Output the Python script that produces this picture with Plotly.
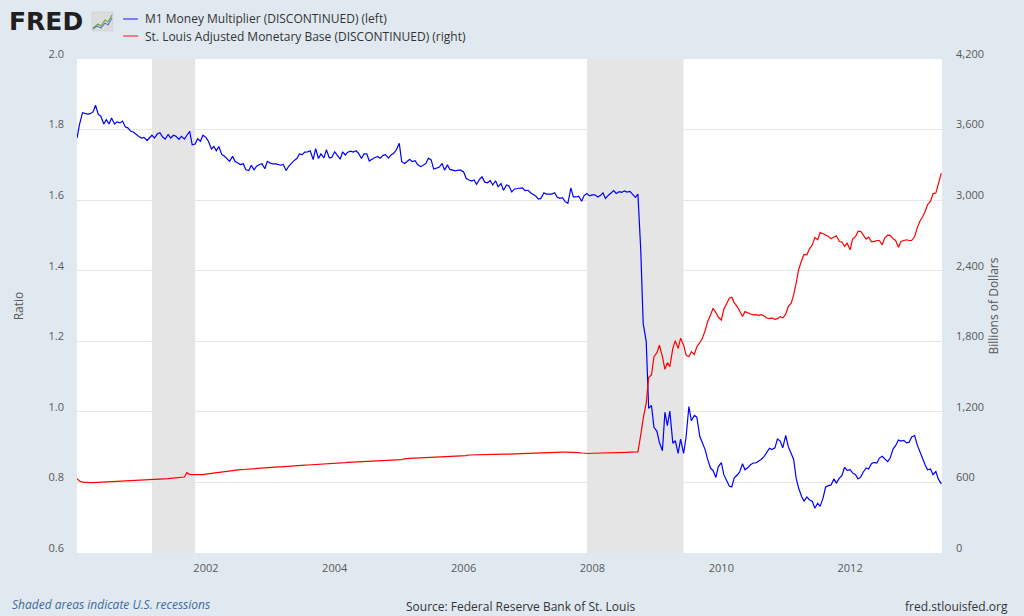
import plotly.graph_objects as go
import pandas as pd

# M1 Money Multiplier (ratio), semi-monthly, Jan 2000 - Jun 2013
m1_2000 = [1.776, 1.814, 1.848, 1.845, 1.844, 1.845, 1.850, 1.869, 1.843, 1.838, 1.816, 1.828,
           1.816, 1.833, 1.816, 1.822, 1.819, 1.824, 1.807, 1.805, 1.795, 1.793, 1.786, 1.781]
m1_2001 = [1.776, 1.778, 1.769, 1.776, 1.784, 1.776, 1.788, 1.791, 1.779, 1.773, 1.786, 1.776,
           1.784, 1.781, 1.772, 1.781, 1.773, 1.784, 1.795, 1.757, 1.759, 1.774, 1.767, 1.784]
m1_2002 = [1.778, 1.767, 1.745, 1.752, 1.740, 1.752, 1.729, 1.725, 1.718, 1.710, 1.724, 1.710,
           1.705, 1.701, 1.703, 1.686, 1.684, 1.699, 1.686, 1.696, 1.701, 1.703, 1.689, 1.710]
m1_2003 = [1.705, 1.703, 1.703, 1.701, 1.699, 1.701, 1.684, 1.696, 1.705, 1.712, 1.718, 1.731,
           1.729, 1.736, 1.737, 1.740, 1.715, 1.746, 1.718, 1.731, 1.720, 1.743, 1.720, 1.721]
m1_2004 = [1.737, 1.727, 1.716, 1.737, 1.728, 1.736, 1.739, 1.736, 1.740, 1.733, 1.718, 1.731,
           1.731, 1.711, 1.716, 1.721, 1.723, 1.719, 1.727, 1.729, 1.719, 1.728, 1.733, 1.742]
m1_2005 = [1.761, 1.709, 1.704, 1.709, 1.716, 1.709, 1.712, 1.701, 1.695, 1.698, 1.704, 1.719,
           1.714, 1.688, 1.690, 1.693, 1.704, 1.685, 1.700, 1.687, 1.685, 1.683, 1.685, 1.685]
m1_2006 = [1.680, 1.662, 1.657, 1.654, 1.657, 1.645, 1.659, 1.666, 1.651, 1.649, 1.655, 1.643,
           1.655, 1.638, 1.647, 1.628, 1.643, 1.640, 1.623, 1.631, 1.633, 1.633, 1.635, 1.627]
m1_2007 = [1.628, 1.621, 1.615, 1.611, 1.603, 1.605, 1.621, 1.617, 1.617, 1.617, 1.621, 1.609,
           1.605, 1.607, 1.595, 1.591, 1.635, 1.609, 1.609, 1.611, 1.597, 1.613, 1.619, 1.612]
m1_2008 = [1.615, 1.615, 1.609, 1.613, 1.621, 1.605, 1.614, 1.619, 1.627, 1.619, 1.624, 1.622,
           1.626, 1.623, 1.625, 1.617, 1.608, 1.617, 1.460, 1.250, 1.200, 1.010, 1.018, 0.956]
m1_2009 = [0.945, 0.913, 0.890, 0.999, 0.961, 1.002, 0.911, 0.918, 0.882, 0.923, 0.882, 0.928,
           1.015, 0.975, 0.990, 0.985, 0.930, 0.913, 0.893, 0.866, 0.840, 0.834, 0.814, 0.845]
m1_2010 = [0.856, 0.822, 0.806, 0.790, 0.787, 0.813, 0.821, 0.830, 0.853, 0.836, 0.842, 0.850,
           0.855, 0.855, 0.861, 0.865, 0.874, 0.885, 0.897, 0.893, 0.898, 0.923, 0.917, 0.898]
m1_2011 = [0.933, 0.902, 0.882, 0.865, 0.812, 0.784, 0.760, 0.747, 0.759, 0.751, 0.746, 0.727,
           0.741, 0.732, 0.756, 0.787, 0.791, 0.793, 0.810, 0.798, 0.812, 0.819, 0.843, 0.834]
m1_2012 = [0.836, 0.827, 0.822, 0.810, 0.815, 0.829, 0.841, 0.838, 0.853, 0.857, 0.855, 0.869,
           0.874, 0.867, 0.859, 0.869, 0.895, 0.904, 0.920, 0.917, 0.919, 0.912, 0.914, 0.929]
m1_2013 = [0.933, 0.907, 0.884, 0.866, 0.850, 0.836, 0.838, 0.822, 0.831, 0.810, 0.796]

# St. Louis Adjusted Monetary Base (billions of dollars), semi-monthly
base_2000 = [633, 612, 603, 600, 599, 599, 599, 600, 600, 601, 602, 602,
             603, 604, 605, 606, 607, 608, 610, 611, 612, 613, 614, 616]
base_2001 = [617, 618, 619, 621, 622, 624, 625, 627, 629, 631, 633, 635,
             637, 639, 641, 643, 646, 683, 668, 666, 665, 664, 665, 667]
base_2002 = [670, 673, 677, 681, 684, 687, 690, 693, 697, 700, 703, 705,
             707, 709, 710, 712, 713, 715, 716, 717, 719, 721, 722, 724]
base_2003 = [726, 728, 730, 732, 733, 735, 737, 738, 740, 741, 742, 744,
             745, 747, 748, 749, 750, 752, 753, 754, 756, 757, 759, 761]
base_2004 = [763, 765, 766, 768, 769, 771, 772, 774, 775, 776, 776, 777,
             779, 780, 781, 782, 784, 785, 787, 788, 789, 789, 789, 790]
base_2005 = [791, 794, 800, 804, 805, 806, 806, 807, 808, 808, 809, 809,
             810, 811, 811, 812, 813, 814, 815, 816, 818, 819, 820, 822]
base_2006 = [823, 828, 833, 834, 835, 835, 836, 836, 837, 837, 838, 838,
             839, 839, 840, 840, 840, 841, 841, 842, 842, 843, 845, 846]
base_2007 = [846, 847, 848, 849, 850, 851, 852, 853, 854, 855, 855, 856,
             856, 857, 857, 857, 857, 856, 855, 853, 850, 848, 847, 846]
base_2008 = [848, 849, 850, 851, 852, 852, 853, 853, 854, 854, 855, 855,
             856, 856, 857, 857, 858, 860, 1002, 1144, 1272, 1493, 1513, 1669]
base_2009 = [1703, 1768, 1669, 1561, 1618, 1584, 1740, 1805, 1740, 1826, 1769, 1683,
             1669, 1712, 1689, 1754, 1788, 1825, 1890, 1967, 2024, 2081, 2044, 2004]
base_2010 = [1981, 2072, 2123, 2166, 2174, 2129, 2095, 2061, 2010, 2052, 2038, 2032,
             2024, 2027, 2021, 2027, 2015, 1998, 1993, 1998, 1987, 1993, 2010, 1998]
base_2011 = [2030, 2095, 2124, 2195, 2294, 2407, 2487, 2538, 2535, 2584, 2620, 2683,
             2663, 2725, 2714, 2706, 2691, 2671, 2683, 2697, 2648, 2646, 2606, 2634]
base_2012 = [2578, 2669, 2691, 2734, 2734, 2703, 2669, 2686, 2648, 2648, 2657, 2657,
             2620, 2677, 2703, 2700, 2671, 2657, 2600, 2648, 2660, 2663, 2657, 2657]
base_2013 = [2691, 2762, 2825, 2856, 2904, 2961, 2992, 3054, 3060, 3140, 3230]

m1_multiplier = (m1_2000 + m1_2001 + m1_2002 + m1_2003 + m1_2004 + m1_2005 + m1_2006 +
                 m1_2007 + m1_2008 + m1_2009 + m1_2010 + m1_2011 + m1_2012 + m1_2013)
monetary_base = (base_2000 + base_2001 + base_2002 + base_2003 + base_2004 + base_2005 +
                 base_2006 + base_2007 + base_2008 + base_2009 + base_2010 + base_2011 +
                 base_2012 + base_2013)
dates = pd.date_range("2000-01-01", periods=len(m1_multiplier), freq="SMS")

series_names = ["M1 Money Multiplier (DISCONTINUED) (left)",
                "St. Louis Adjusted Monetary Base (DISCONTINUED) (right)"]
series_colors = ["#0000ff", "#ff0000"]
recessions = [("2001-03-01", "2001-11-01"), ("2007-12-01", "2009-06-01")]
x_ticks = ["2002-01-01", "2004-01-01", "2006-01-01", "2008-01-01", "2010-01-01", "2012-01-01"]
x_tick_labels = ["2002", "2004", "2006", "2008", "2010", "2012"]
left_ticks = [0.6, 0.8, 1.0, 1.2, 1.4, 1.6, 1.8, 2.0]
right_ticks = [0, 600, 1200, 1800, 2400, 3000, 3600, 4200]

W, H = 1024, 616
ML, MR, MT, MB = 77, 82, 59, 63
PW, PH = W - ML - MR, H - MT - MB


def px(x, y):
    return (x - ML) / PW, (H - MB - y) / PH


fig = go.Figure()
fig.add_trace(go.Scatter(x=dates, y=m1_multiplier, mode="lines", name=series_names[0],
                         line=dict(color=series_colors[0], width=1.2), yaxis="y"))
fig.add_trace(go.Scatter(x=dates, y=monetary_base, mode="lines", name=series_names[1],
                         line=dict(color=series_colors[1], width=1.2), yaxis="y2"))

shapes = []
for start, end in recessions:
    shapes.append(dict(type="rect", xref="x", yref="paper", x0=start, x1=end, y0=0, y1=1,
                       fillcolor="#e5e5e5", line=dict(width=0), layer="below"))

# FRED logo icon
x0, y0 = px(92, 31)
x1, y1 = px(113, 12)
shapes.append(dict(type="rect", xref="paper", yref="paper", x0=x0, x1=x1, y0=y0, y1=y1,
                   fillcolor="#dcdcdc", line=dict(color="#c8c8c8", width=0.5)))
g = [px(93, 28), px(98, 24), px(101, 26), px(105, 20), px(108, 22), px(112, 15)]
b = [px(93, 29), px(97, 26), px(101, 28), px(105, 23), px(108, 25), px(112, 18)]
shapes.append(dict(type="path", xref="paper", yref="paper",
                   path="M" + " L".join(f"{a},{c}" for a, c in g),
                   line=dict(color="#6aa84f", width=1.2)))
shapes.append(dict(type="path", xref="paper", yref="paper",
                   path="M" + " L".join(f"{a},{c}" for a, c in b),
                   line=dict(color="#5b7fb5", width=1.2)))

annotations = []
# legend (drawn by hand to match FRED's compact layout)
for i, (name, color) in enumerate(zip(series_names, series_colors)):
    yy = 19 + 17 * i
    lx0, ly0 = px(123, yy)
    lx1, _ = px(138, yy)
    shapes.append(dict(type="line", xref="paper", yref="paper", x0=lx0, x1=lx1, y0=ly0, y1=ly0,
                       line=dict(color=color, width=1.5), opacity=0.6))
    tx, ty = px(143, yy)
    annotations.append(dict(xref="paper", yref="paper", x=tx, y=ty, xanchor="left",
                            yanchor="middle", text=name, showarrow=False,
                            font=dict(family="Open Sans", size=12, color="#333333")))

fx, fy = px(7, 21)
annotations.append(dict(xref="paper", yref="paper", x=fx, y=fy, xanchor="left", yanchor="middle",
                        text="<b>FRED</b>", showarrow=False,
                        font=dict(family="DejaVu Sans", size=25, color="#231f20")))
sx, sy = px(10, 605)
annotations.append(dict(xref="paper", yref="paper", x=sx, y=sy, xanchor="left", yanchor="middle",
                        text="<i>Shaded areas indicate U.S. recessions</i>", showarrow=False,
                        font=dict(family="Open Sans", size=12, color="#3a6aa0")))
cx, cy = px(520, 606)
annotations.append(dict(xref="paper", yref="paper", x=cx, y=cy, xanchor="center", yanchor="middle",
                        text="Source: Federal Reserve Bank of St. Louis", showarrow=False,
                        font=dict(family="Open Sans", size=12, color="#333333")))
rx, ry = px(1010, 606)
annotations.append(dict(xref="paper", yref="paper", x=rx, y=ry, xanchor="right", yanchor="middle",
                        text="fred.stlouisfed.org", showarrow=False,
                        font=dict(family="Open Sans", size=12, color="#333333")))

fig.update_layout(
    width=W, height=H,
    margin=dict(l=ML, r=MR, t=MT, b=MB, autoexpand=False),
    paper_bgcolor="#e1e9f0",
    plot_bgcolor="#ffffff",
    font=dict(family="Open Sans", size=11, color="#595959"),
    showlegend=False,
    xaxis=dict(type="date", range=["2000-01-01", "2013-06-05"], showgrid=False,
               tickvals=x_ticks, ticktext=x_tick_labels, ticks="", showline=False,
               zeroline=False, automargin=False, ticklabelstandoff=7,
               tickfont=dict(size=11, color="#595959")),
    yaxis=dict(range=[0.6, 2.0], tickvals=left_ticks, tickformat=".1f",
               showgrid=True, gridcolor="#e6e6e6", gridwidth=1, zeroline=False,
               ticks="", ticklabelstandoff=12, ticklabelshift=-5, automargin=False,
               title=dict(text="Ratio", standoff=22, font=dict(size=12, color="#595959"))),
    yaxis2=dict(range=[0, 4200], tickvals=right_ticks, tickformat=",", overlaying="y",
                side="right", showgrid=False, zeroline=False, ticks="", automargin=False,
                ticklabelstandoff=13, ticklabelshift=-5,
                title=dict(text="Billions of Dollars", standoff=6,
                           font=dict(size=12, color="#595959"))),
    shapes=shapes,
    annotations=annotations,
)

fig.write_html("out.html", config={"displayModeBar": False},
               post_script="document.body.style.margin='0';document.body.style.overflow='hidden';")
